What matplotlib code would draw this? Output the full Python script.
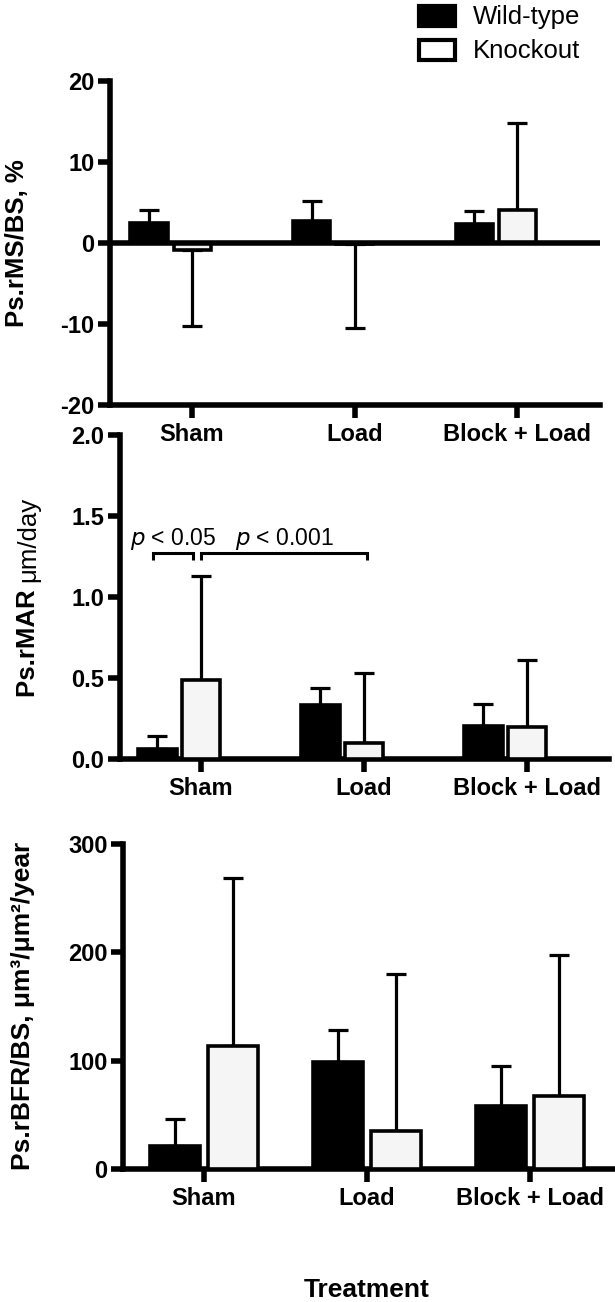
import matplotlib
matplotlib.use("Agg")
import matplotlib.pyplot as plt
from matplotlib.patches import Rectangle
import numpy as np

plt.rcParams['font.family'] = ['Liberation Sans', 'DejaVu Sans']

# ---------------- data ----------------
categories = ['Sham', 'Load', 'Block + Load']
series_names = ['Wild-type', 'Knockout']

ms_wt = [2.4, 2.7, 2.35]
ms_wt_err = [1.6, 2.5, 1.55]
ms_ko = [-0.9, -0.1, 4.0]
ms_ko_err = [9.4, 10.4, 10.8]
ms_ticks = [-20, -10, 0, 10, 20]

mar_wt = [0.06, 0.334, 0.204]
mar_wt_err = [0.085, 0.103, 0.134]
mar_ko = [0.49, 0.097, 0.196]
mar_ko_err = [0.638, 0.435, 0.416]
mar_ticks = [0.0, 0.5, 1.0, 1.5, 2.0]
mar_ticklabels = ['0.0', '0.5', '1.0', '1.5', '2.0']

bfr_wt = [21, 98.7, 58.6]
bfr_wt_err = [25.6, 29.3, 36.4]
bfr_ko = [114, 34.8, 67.8]
bfr_ko_err = [155, 145.2, 130.2]
bfr_ticks = [0, 100, 200, 300]

# significance brackets on panel 2: (group_a, series_a, group_b, series_b, y, label)
brackets = [(0, 0, 0, 1, 1.27, '0.05'), (0, 1, 1, 1, 1.27, '0.001')]

# ---------------- style ----------------
W, H = 615, 1302
fig = plt.figure(figsize=(W / 100, H / 100), dpi=100)

SPINE_LW = 4.0
EDGE_LW = 2.6
ERR_LW = 2.3
TICK_FS = 17
LABEL_FS = 18.5
KO_FILL = '#f5f5f5'


def px_axes(left, right, top, bottom):
    return fig.add_axes([left / W, 1 - bottom / H, (right - left) / W, (bottom - top) / H])


def panel(ax, wt, wt_err, ko, ko_err, width, ko_off, tick_off, xlim, ylim,
          yticks, yticklabels, zero_line=False):
    g = np.arange(len(categories))
    x_wt = g
    x_ko = g + ko_off
    ax.bar(x_wt, wt, width, color='black', edgecolor='black', linewidth=EDGE_LW, zorder=3)
    ax.bar(x_ko, ko, width, color=KO_FILL, edgecolor='black', linewidth=EDGE_LW, zorder=3)
    for xs, vals, errs in ((x_wt, wt, wt_err), (x_ko, ko, ko_err)):
        for xv, v, e in zip(xs, vals, errs):
            if v >= 0:
                yerr = [[0], [e]]
            else:
                yerr = [[e], [0]]
            ax.errorbar([xv], [v], yerr=yerr, fmt='none', ecolor='black',
                        elinewidth=ERR_LW, capsize=7, capthick=ERR_LW, zorder=2)
    ax.set_xlim(*xlim)
    ax.set_ylim(*ylim)
    ax.set_yticks(yticks)
    ax.set_yticklabels(yticklabels, fontsize=TICK_FS, fontweight='bold')
    ax.set_xticks(g + tick_off)
    ax.set_xticklabels(categories, fontsize=TICK_FS, fontweight='bold')
    for s in ('top', 'right'):
        ax.spines[s].set_visible(False)
    for s in ('left', 'bottom'):
        ax.spines[s].set_linewidth(SPINE_LW)
        ax.spines[s].set_capstyle('projecting')
    ax.tick_params(axis='both', width=SPINE_LW, length=9, direction='out', pad=2)
    ax.tick_params(axis='x', pad=4)
    if zero_line:
        ax.axhline(0, color='black', lw=SPINE_LW, zorder=4, solid_capstyle='butt')
    ax.patch.set_alpha(0)
    return x_wt, x_ko


# Panel 1
ax1 = px_axes(110, 600, 80.5, 405)
panel(ax1, ms_wt, ms_wt_err, ms_ko, ms_ko_err,
      width=0.228, ko_off=0.265, tick_off=0.265,
      xlim=(-0.24, 2.775), ylim=(-20, 20),
      yticks=ms_ticks, yticklabels=[str(t) for t in ms_ticks],
      zero_line=True)
fig.text(17 / W, 1 - 243 / H, 'Ps.rMS/BS, %', rotation=90, ha='center', va='center',
         fontsize=LABEL_FS, fontweight='bold')

# Panel 2
ax2 = px_axes(119.5, 609, 435, 759)
x_wt2, x_ko2 = panel(ax2, mar_wt, mar_wt_err, mar_ko, mar_ko_err,
                     width=0.235, ko_off=0.267, tick_off=0.267,
                     xlim=(-0.233, 2.77), ylim=(0, 2.0),
                     yticks=mar_ticks, yticklabels=mar_ticklabels)
xpos = [x_wt2, x_ko2]
adj = [(-0.03, -0.05), (0.0, 0.02)]
for (ga, sa, gb, sb, yb, lab), (da, db) in zip(brackets, adj):
    xa = xpos[sa][ga] + da
    xb = xpos[sb][gb] + db
    ax2.plot([xa, xa, xb, xb], [yb - 0.04, yb, yb, yb - 0.04], color='black',
             lw=2.2, solid_capstyle='butt', solid_joinstyle='miter', clip_on=False)
    ax2.text((xa + xb) / 2, yb + 0.05, r'$\mathit{p}$' + ' < ' + lab, ha='center', va='baseline',
             fontsize=16.5, fontweight='normal')

# two-part y label for panel 2 (bold name, regular unit), centred on the axis
lab_x = 28 / W
t1 = fig.text(lab_x, 0.5, 'Ps.rMAR ', rotation=90, ha='left', va='center',
              rotation_mode='anchor', fontsize=LABEL_FS, fontweight='bold')
t2 = fig.text(lab_x, 0.5, 'μm/day', rotation=90, ha='left', va='center',
              rotation_mode='anchor', fontsize=LABEL_FS, fontweight='normal')
fig.canvas.draw()
h1 = t1.get_window_extent().height
h2 = t2.get_window_extent().height
yc = H - 597
y0 = yc - (h1 + h2) / 2
t1.set_position((lab_x, y0 / H))
t2.set_position((lab_x, (y0 + h1) / H))

# Panel 3
ax3 = px_axes(123, 613, 844, 1169)
panel(ax3, bfr_wt, bfr_wt_err, bfr_ko, bfr_ko_err,
      width=0.307, ko_off=0.356, tick_off=0.178,
      xlim=(-0.319, 2.687), ylim=(0, 300),
      yticks=bfr_ticks, yticklabels=[str(t) for t in bfr_ticks])
fig.text(23 / W, 1 - 1006 / H, 'Ps.rBFR/BS, μm³/μm²/year', rotation=90, ha='center',
         va='center', fontsize=19, fontweight='bold')

fig.text(367 / W, 1 - 1297 / H, 'Treatment', ha='center', va='baseline',
         fontsize=19, fontweight='bold')

# Legend
leg_y = [16, 50]
fills = ['black', 'white']
for name, yc_, fc in zip(series_names, leg_y, fills):
    fig.patches.append(Rectangle((419 / W, 1 - (yc_ + 10) / H), 36 / W, 20 / H,
                                 transform=fig.transFigure, facecolor=fc,
                                 edgecolor='black', linewidth=3))
    fig.text(473 / W, 1 - (yc_ + 1) / H, name, ha='left', va='center',
             fontsize=18.5, fontweight='normal')

fig.savefig('out.png', dpi=100)
